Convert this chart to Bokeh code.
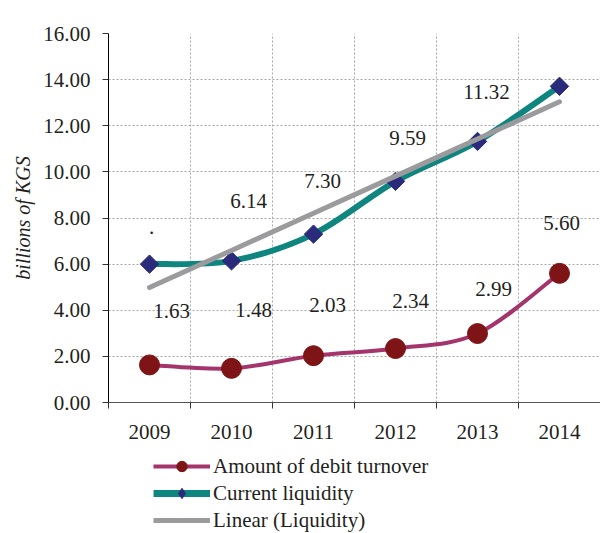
import numpy as np
from bokeh.plotting import figure
from bokeh.layouts import column
from bokeh.models import (ColumnDataSource, FixedTicker, Legend, LegendItem,
                          NumeralTickFormatter)
from bokeh.core.properties import value
from bokeh.embed import file_html
from bokeh.resources import INLINE

# ---- data ----
years = [2009, 2010, 2011, 2012, 2013, 2014]
debit_turnover = [1.63, 1.48, 2.03, 2.34, 2.99, 5.60]
current_liquidity = [6.00, 6.14, 7.30, 9.59, 11.32, 13.71]
debit_labels = ["1.63", "1.48", "2.03", "2.34", "2.99", "5.60"]
liquidity_labels = [".", "6.14", "7.30", "9.59", "11.32", "13.71"]
y_ticks = [0, 2, 4, 6, 8, 10, 12, 14, 16]
series_names = ["Amount of debit turnover", "Current liquidity", "Linear (Liquidity)"]

# ---- label layout (screen-pixel offsets from each point) ----
debit_dx = [22, 22, 14, 15, 16, 2]
debit_dy = [-54, -58, -51, -48, -45, -50]
liq_dx = [2, 17, 9, 12, 9, -16]
liq_dy = [-37, -60, -53, -43, -49, -64]

SERIF = "Liberation Serif, Times New Roman, serif"
TXT = "#231f20"

TEAL = "#0f8580"
NAVY = "#2a2b7a"
PLUM = "#a3356c"
DRED = "#7e1416"
GRAY = "#9b9b9d"

x = np.array(years, dtype=float)


def smooth_segments(xs, ys):
    xs = np.asarray(xs, float)
    ys = np.asarray(ys, float)
    n = len(xs)
    px = np.concatenate([[xs[0]], xs, [xs[-1]]])
    py = np.concatenate([[ys[0]], ys, [ys[-1]]])
    d = dict(x0=[], y0=[], x1=[], y1=[], cx0=[], cy0=[], cx1=[], cy1=[])
    for i in range(n - 1):
        j = i + 1
        d["x0"].append(px[j]); d["y0"].append(py[j])
        d["x1"].append(px[j + 1]); d["y1"].append(py[j + 1])
        d["cx0"].append(px[j] + (px[j + 1] - px[j - 1]) / 6)
        d["cy0"].append(py[j] + (py[j + 1] - py[j - 1]) / 6)
        d["cx1"].append(px[j + 1] - (px[j + 2] - px[j]) / 6)
        d["cy1"].append(py[j + 1] - (py[j + 2] - py[j]) / 6)
    return ColumnDataSource(d)


# linear trend of liquidity
k, b = np.polyfit(np.arange(len(years)), current_liquidity, 1)
trend = [b + k * i for i in range(len(years))]

p = figure(frame_width=492, frame_height=369, output_backend="svg",
           toolbar_location=None,
           x_range=(2008.5, 2014.5), y_range=(0, 16),
           min_border_left=108, min_border_right=0, min_border_top=33,
           min_border_bottom=48)
p.outline_line_color = None
p.background_fill_color = "white"
p.border_fill_color = "white"

boundaries = [yr + 0.5 for yr in [2008] + years]

# x axis
p.xaxis.ticker = FixedTicker(ticks=years, minor_ticks=boundaries)
p.xaxis.major_tick_line_color = None
p.xaxis.major_tick_out = 0
p.xaxis.major_tick_in = 0
p.xaxis.minor_tick_out = 6
p.xaxis.minor_tick_in = 0
p.xaxis.minor_tick_line_color = "#333333"
p.xaxis.axis_line_color = "#555555"
p.xaxis.major_label_standoff = 16
p.xaxis.major_label_text_font = SERIF
p.xaxis.major_label_text_font_size = "21px"
p.xaxis.major_label_text_color = TXT
p.xaxis.major_label_overrides = {yr: str(yr) for yr in years}

# y axis
p.yaxis.ticker = FixedTicker(ticks=y_ticks)
p.yaxis.formatter = NumeralTickFormatter(format="0.00")
p.yaxis.minor_tick_line_color = None
p.yaxis.major_tick_out = 6
p.yaxis.major_tick_in = 0
p.yaxis.axis_line_color = "black"
p.yaxis.major_tick_line_color = "#333333"
p.yaxis.major_label_standoff = 12
p.yaxis.major_label_text_font = SERIF
p.yaxis.major_label_text_font_size = "21px"
p.yaxis.major_label_text_color = TXT
p.yaxis.axis_label = "billions of KGS"
p.yaxis.axis_label_text_font = SERIF
p.yaxis.axis_label_text_font_style = "italic"
p.yaxis.axis_label_text_font_size = "20px"
p.yaxis.axis_label_text_color = TXT
p.yaxis.axis_label_standoff = 6

# grids
p.xgrid.ticker = FixedTicker(ticks=boundaries[1:-1])
p.ygrid.ticker = FixedTicker(ticks=y_ticks[1:-1])
for g in (p.xgrid, p.ygrid):
    g.grid_line_color = "#a8a8a8"
    g.grid_line_dash = "2 2"
    g.grid_line_width = 1

# current liquidity (smoothed)
p.bezier(x0="x0", y0="y0", x1="x1", y1="y1", cx0="cx0", cy0="cy0", cx1="cx1",
         cy1="cy1", source=smooth_segments(x, current_liquidity),
         line_color=TEAL, line_width=6)
p.scatter(x, current_liquidity, marker="square", angle=np.pi / 4,
          size=13, fill_color=NAVY, line_color=NAVY)

# linear trend
p.line(x, trend, line_color=GRAY, line_width=5, line_cap="round")

# debit turnover (smoothed)
p.bezier(x0="x0", y0="y0", x1="x1", y1="y1", cx0="cx0", cy0="cy0", cx1="cx1",
         cy1="cy1", source=smooth_segments(x, debit_turnover),
         line_color=PLUM, line_width=4)
p.scatter(x, debit_turnover, marker="circle", size=20,
          fill_color=DRED, line_color=DRED)

# data labels
lab_src = ColumnDataSource(dict(
    x=list(x) + list(x),
    y=debit_turnover + current_liquidity,
    t=debit_labels + liquidity_labels,
    dx=debit_dx + liq_dx,
    dy=debit_dy + liq_dy,
))
p.text(x="x", y="y", text="t", x_offset="dx", y_offset="dy", source=lab_src,
       text_font=value(SERIF), text_font_size="21px", text_color=TXT,
       text_align="center", text_baseline="middle")

# ---- legend strip below the chart ----
lf = figure(width=600, height=83, output_backend="svg", toolbar_location=None,
            x_range=(0, 1), y_range=(0, 1), x_axis_type=None, y_axis_type=None,
            min_border_left=108, min_border_top=0, min_border_right=0,
            min_border_bottom=0)
lf.outline_line_color = None
lf.xgrid.visible = False
lf.ygrid.visible = False
# same series, outside the strip's visible range: only their legend glyphs show
l_deb = lf.line(x, debit_turnover, line_color=PLUM, line_width=4)
s_deb = lf.scatter(x, debit_turnover, marker="circle", size=16,
                   fill_color=DRED, line_color=DRED)
l_liq = lf.line(x, current_liquidity, line_color=TEAL, line_width=7)
s_liq = lf.scatter(x, current_liquidity, marker="diamond", size=17,
                   fill_color=NAVY, line_color=NAVY)
l_tr = lf.line(x, trend, line_color=GRAY, line_width=5)

legend = Legend(items=[
    LegendItem(label=series_names[0], renderers=[l_deb, s_deb]),
    LegendItem(label=series_names[1], renderers=[l_liq, s_liq]),
    LegendItem(label=series_names[2], renderers=[l_tr]),
], location=(45, 0), orientation="vertical")
legend.label_text_font = SERIF
legend.label_text_font_size = "21px"
legend.label_text_color = TXT
legend.label_height = 26
legend.glyph_height = 26
legend.glyph_width = 57
legend.label_standoff = 3
legend.spacing = 1
legend.padding = 0
legend.margin = 0
legend.border_line_color = None
legend.background_fill_alpha = 0
lf.add_layout(legend, "center")

open("out.html", "w").write(file_html(column(p, lf, spacing=0), INLINE))
